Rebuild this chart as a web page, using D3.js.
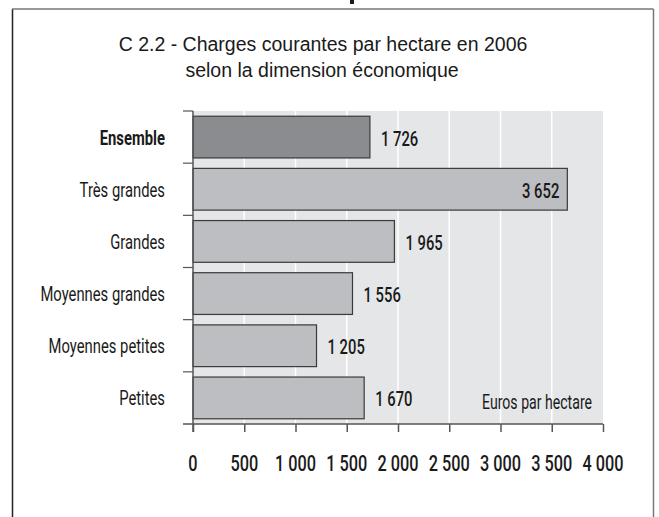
<!DOCTYPE html>
<html>
<head>
<meta charset="utf-8">
<script src="https://cdn.jsdelivr.net/npm/d3@7"></script>
<style>
  body { margin: 0; background: #fff; }
  text { font-family: Roboto, "Liberation Sans", sans-serif; fill: #1a1a1a; }
  .title { font-family: "Liberation Sans", Arial, sans-serif; font-size: 19.5px; }
  .cat-label { font-size: 21px; font-weight: 400; }
  .val-label { font-size: 21px; font-weight: 500; }
  .tick-label { font-size: 22px; font-weight: 500; }
</style>
</head>
<body>
<div id="chart"></div>
<script>
// chart data
let categories = ['Ensemble', 'Très grandes', 'Grandes', 'Moyennes grandes', 'Moyennes petites', 'Petites'];
let values = [1726, 3652, 1965, 1556, 1205, 1670];
let valueLabels = ['1 726', '3 652', '1 965', '1 556', '1 205', '1 670'];
let xTicks = [0, 500, 1000, 1500, 2000, 2500, 3000, 3500, 4000];
let xTickLabels = ['0', '500', '1 000', '1 500', '2 000', '2 500', '3 000', '3 500', '4 000'];

let width = 659, height = 517;
let plot = {left: 193, right: 603, top: 111, bottom: 424};
// condensed look: no narrow font installed, so squeeze glyphs horizontally
let squeeze = 0.705;
let place = (px, py, s) => `translate(${px},${py}) scale(${s},1)`;

let svg = d3.select('#chart')
            .append('svg')
            .attr('width', width)
            .attr('height', height);

// frame around the figure
svg.append('line').attr('x1', 12.5).attr('y1', 9).attr('x2', 12.5).attr('y2', height)
   .attr('stroke', '#222').attr('stroke-width', 1.5);
svg.append('line').attr('x1', 12).attr('y1', 9).attr('x2', 653.5).attr('y2', 9)
   .attr('stroke', '#777').attr('stroke-width', 1.5);
svg.append('line').attr('x1', 653.5).attr('y1', 9).attr('x2', 653.5).attr('y2', height)
   .attr('stroke', '#777').attr('stroke-width', 1.5);

// bit of the page heading above, cut by the crop
svg.append('rect').attr('x', 350).attr('y', 0).attr('width', 4).attr('height', 4).attr('fill', '#1a1a1a');

// title
svg.append('text').attr('class', 'title')
   .attr('x', 323).attr('y', 51)
   .style('text-anchor', 'middle')
   .text('C 2.2 - Charges courantes par hectare en 2006');
svg.append('text').attr('class', 'title')
   .attr('x', 322).attr('y', 77)
   .style('text-anchor', 'middle')
   .text('selon la dimension économique');

// scales
let x = d3.scaleLinear()
          .domain([0, 4000])
          .range([plot.left, plot.right]);

let y = d3.scaleBand()
          .domain(categories)
          .range([plot.top, plot.bottom])
          .paddingInner(0.2)
          .paddingOuter(0.1);

// plot background
svg.append('rect')
   .attr('x', plot.left).attr('y', plot.top)
   .attr('width', plot.right - plot.left)
   .attr('height', plot.bottom - plot.top)
   .attr('fill', '#e5e6e8');

// white grid lines
svg.selectAll('.grid')
   .data(xTicks.slice(1, -1))
   .enter()
   .append('line')
   .attr('class', 'grid')
   .attr('x1', d => x(d)).attr('x2', d => x(d))
   .attr('y1', plot.top).attr('y2', plot.bottom)
   .attr('stroke', '#fff').attr('stroke-width', 1.5);

// bars
svg.selectAll('.bar')
   .data(categories)
   .enter()
   .append('rect')
   .attr('class', 'bar')
   .attr('x', x(0))
   .attr('y', d => y(d))
   .attr('width', (d, i) => x(values[i]) - x(0))
   .attr('height', y.bandwidth())
   .attr('fill', (d, i) => i === 0 ? '#8b8c8f' : '#bdbec1')
   .attr('stroke', '#3a3a3a')
   .attr('stroke-width', 1.2);

// value labels (inside the bar when it is long)
svg.selectAll('.val-label')
   .data(categories)
   .enter()
   .append('text')
   .attr('class', 'val-label')
   .attr('transform', (d, i) => place(values[i] > 3000 ? x(values[i]) - 8 : x(values[i]) + 11,
                                      y(d) + y.bandwidth() / 2 + 8.5, squeeze))
   .style('text-anchor', (d, i) => values[i] > 3000 ? 'end' : 'start')
   .text((d, i) => valueLabels[i]);

// category labels
svg.selectAll('.cat-label')
   .data(categories)
   .enter()
   .append('text')
   .attr('class', 'cat-label')
   .attr('transform', d => place(165, y(d) + y.bandwidth() / 2 + 7.5, squeeze))
   .style('text-anchor', 'end')
   .style('font-weight', (d, i) => i === 0 ? 'bold' : null)
   .text(d => d);

// y axis line and band separators
let axisColor = '#555';
svg.append('line')
   .attr('x1', plot.left).attr('x2', plot.left)
   .attr('y1', plot.top).attr('y2', plot.bottom + 8)
   .attr('stroke', axisColor).attr('stroke-width', 1.5);

let bounds = categories.map(d => y(d) - y.step() * y.paddingInner() / 2);
svg.selectAll('.ytick')
   .data(bounds)
   .enter()
   .append('line')
   .attr('class', 'ytick')
   .attr('x1', plot.left - 10).attr('x2', plot.left)
   .attr('y1', d => d).attr('y2', d => d)
   .attr('stroke', axisColor).attr('stroke-width', 1.2);

// x axis
let xAxis = svg.append('g')
   .attr('class', 'axis x-axis')
   .attr('transform', 'translate(0,' + plot.bottom + ')')
   .call(d3.axisBottom(x).tickValues(xTicks).tickSize(8).tickFormat(''));
xAxis.select('.domain').remove();
xAxis.selectAll('line').attr('stroke', axisColor).attr('stroke-width', 1.5);
svg.append('line')
   .attr('x1', plot.left - 10).attr('x2', plot.right)
   .attr('y1', plot.bottom).attr('y2', plot.bottom)
   .attr('stroke', axisColor).attr('stroke-width', 1.5);

svg.selectAll('.tick-label')
   .data(xTicks)
   .enter()
   .append('text')
   .attr('class', 'tick-label')
   .attr('transform', d => place(x(d), 471, 0.74))
   .style('text-anchor', 'middle')
   .text((d, i) => xTickLabels[i]);

// unit
svg.append('text')
   .attr('class', 'val-label')
   .attr('transform', place(592, 409, squeeze))
   .style('text-anchor', 'end')
   .style('font-size', '20px')
   .style('font-weight', 'normal')
   .text('Euros par hectare');
</script>
</body>
</html>
